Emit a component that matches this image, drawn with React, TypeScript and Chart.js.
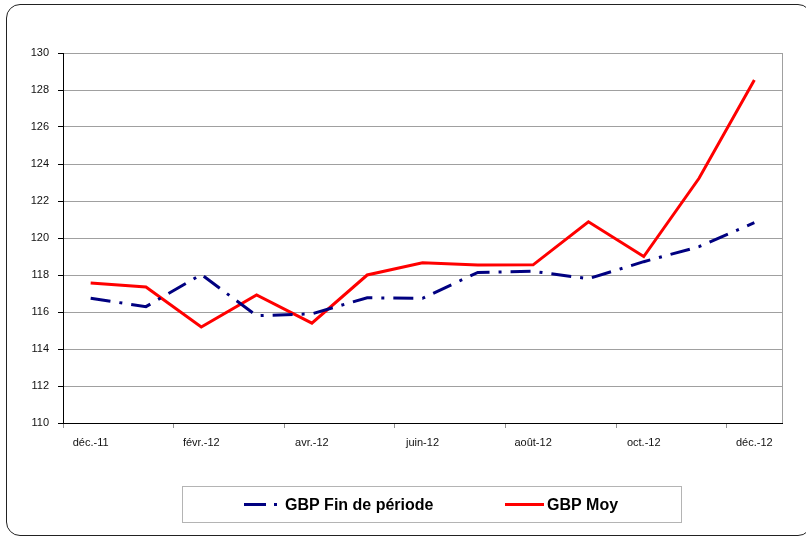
import React, { useEffect, useRef } from "react";
import { Chart, registerables } from "chart.js";

Chart.register(...registerables);

const months = [
  "déc.-11", "janv.-12", "févr.-12", "mars-12", "avr.-12", "mai-12", "juin-12",
  "juil.-12", "août-12", "sept.-12", "oct.-12", "nov.-12", "déc.-12",
];
const gbpFin = [116.74, 116.29, 118.03, 115.8, 115.9, 116.77, 116.74, 118.14, 118.2, 117.8, 118.72, 119.53, 120.83];
const gbpMoy = [117.57, 117.35, 115.19, 116.92, 115.4, 118.0, 118.66, 118.54, 118.55, 120.88, 119.0, 123.23, 128.54];
const seriesNames = ["GBP Fin de période", "GBP Moy"];
const yMin = 110;
const yMax = 130;
const yStep = 2;

const FONT = "'Liberation Sans', Arial, sans-serif";

const legendPlugin = {
  id: "customLegend",
  afterDraw(chart: any) {
    const ctx = chart.ctx;
    ctx.save();
    // box
    ctx.strokeStyle = "#b4b4b4";
    ctx.lineWidth = 1;
    ctx.strokeRect(182.5, 486.5, 499, 36);
    const y = 504.5;
    const items = [
      { x0: 244, x1: 277, tx: 285 },
      { x0: 505, x1: 544, tx: 547 },
    ];
    chart.data.datasets.forEach((ds: any, i: number) => {
      const it = items[i];
      ctx.beginPath();
      ctx.strokeStyle = ds.borderColor;
      ctx.lineWidth = 3;
      ctx.setLineDash(i === 0 ? [22, 8, 3, 8] : []);
      ctx.moveTo(it.x0, y);
      ctx.lineTo(it.x1, y);
      ctx.stroke();
      ctx.setLineDash([]);
      ctx.fillStyle = "#000";
      ctx.font = `bold 16px ${FONT}`;
      ctx.textBaseline = "middle";
      ctx.textAlign = "left";
      ctx.fillText(ds.label, it.tx, y + 1);
    });
    // right border of plot area
    const a = chart.chartArea;
    ctx.beginPath();
    ctx.strokeStyle = "#a0a0a0";
    ctx.lineWidth = 1;
    ctx.moveTo(Math.round(a.right) + 0.5, a.top);
    ctx.lineTo(Math.round(a.right) + 0.5, a.bottom);
    ctx.stroke();
    ctx.restore();
  },
};

export default function App() {
  const ref = useRef<HTMLCanvasElement>(null);
  useEffect(() => {
    if (!ref.current) return;
    const chart = new Chart(ref.current, {
      type: "line",
      data: {
        labels: months,
        datasets: [
          {
            label: seriesNames[0],
            data: gbpFin,
            borderColor: "#000080",
            backgroundColor: "#000080",
            borderWidth: 3,
            borderDash: [20, 9, 3, 9],
            pointRadius: 0,
            tension: 0,
          },
          {
            label: seriesNames[1],
            data: gbpMoy,
            borderColor: "#ff0000",
            backgroundColor: "#ff0000",
            borderWidth: 3,
            pointRadius: 0,
            tension: 0,
          },
        ],
      },
      options: {
        responsive: false,
        animation: false,
        layout: { padding: { top: 53, right: 24, bottom: 84, left: 0 } },
        plugins: {
          legend: { display: false },
          tooltip: { enabled: false },
        },
        scales: {
          x: {
            offset: true,
            afterFit: (s: any) => {
              s.height = 30;
            },
            grid: {
              offset: true,
              drawOnChartArea: false,
              drawTicks: true,
              tickLength: 5,
              color: (c: any) => (c.index % 2 === 0 ? "#909090" : "rgba(0,0,0,0)"),
              tickColor: (c: any) => (c.index % 2 === 0 ? "#909090" : "rgba(0,0,0,0)"),
            },
            border: { display: true, color: "#000", width: 1 },
            ticks: {
              autoSkip: false,
              maxRotation: 0,
              padding: 8,
              color: "#111",
              font: { family: FONT, size: 11 },
              callback: function (this: any, v: any, i: number) {
                return i % 2 === 0 ? this.getLabelForValue(v) : "";
              },
            },
          },
          y: {
            min: yMin,
            max: yMax,
            afterFit: (s: any) => {
              s.width = 63;
            },
            grid: {
              color: "#a0a0a0",
              tickColor: "#000",
              tickLength: 5,
              lineWidth: 1,
            },
            border: { display: true, color: "#000", width: 1 },
            ticks: {
              stepSize: yStep,
              padding: 9,
              color: "#111",
              font: { family: FONT, size: 11 },
            },
          },
        },
      },
      plugins: [legendPlugin],
    });
    return () => chart.destroy();
  }, []);

  return (
    <div style={{ position: "absolute", left: 0, top: 0, width: 806, height: 537, overflow: "hidden", background: "#fff" }}>
      <canvas ref={ref} width={806} height={537} style={{ position: "absolute", left: 0, top: 0 }} />
      <div
        style={{
          position: "absolute",
          left: 6,
          top: 4,
          width: 804,
          height: 530,
          border: "1.5px solid #222",
          borderRadius: 14,
          pointerEvents: "none",
        }}
      />
    </div>
  );
}
